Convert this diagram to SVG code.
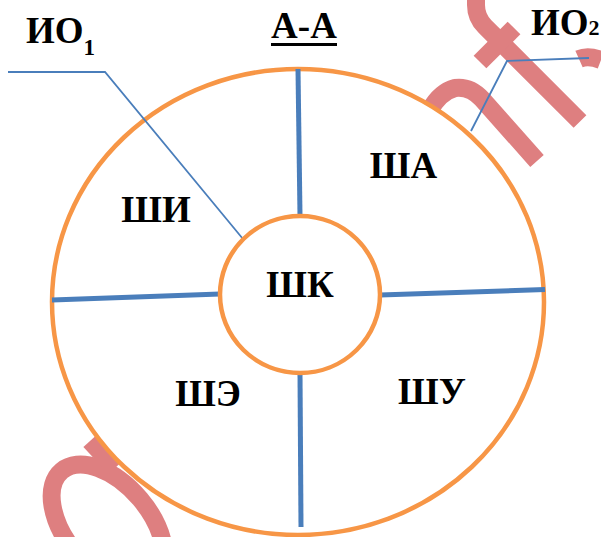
<svg xmlns="http://www.w3.org/2000/svg" width="601" height="537" viewBox="0 0 601 537">
  <style>
    .wm { fill: none; stroke: #de7f80; stroke-width: 18; stroke-linecap: butt; }
    .ring { fill: #ffffff; stroke: #f79646; stroke-width: 4.5; }
    .div { stroke: #4a7ebb; stroke-width: 5; fill: none; }
    .lead { stroke: #4a7ebb; stroke-width: 1.8; fill: none; }
    .lbl { font-family: "Liberation Serif", "Times New Roman", serif; font-weight: bold; font-size: 37px; fill: #000000; }
  </style>
  <rect x="0" y="0" width="601" height="537" fill="#ffffff"/>
  <g id="watermark">
    <path class="wm" d="M476,-5 L476,5 Q476,17.5 485,26.5 L580,121.5"/>
    <path class="wm" stroke-width="15" d="M480,62 L514,28"/>
    <path class="wm" stroke-width="11" d="M579,59 Q588,55 601,60"/>
    <path class="wm" stroke-width="19" d="M537,161 L482,99 Q470,86 455,88 Q440,92 430,110"/>
    <ellipse class="wm" cx="108" cy="526" rx="72" ry="42" transform="rotate(50 108 526)"/>
    <path class="wm" stroke-width="15" d="M90,441 L115,468"/>
  </g>
  <g id="outer-ring">
    <ellipse class="ring" cx="298" cy="302" rx="246" ry="233"/>
  </g>
  <g id="connectors">
    <line class="div" x1="298" y1="69" x2="300" y2="216"/>
    <line class="div" x1="300" y1="373" x2="301" y2="527"/>
    <line class="div" x1="52" y1="300" x2="220" y2="294"/>
    <line class="div" x1="380" y1="295" x2="545" y2="289.5"/>
    <polyline class="lead" points="8,72 105,72 243,239"/>
    <polyline class="lead" points="471,131 507,61 589,58"/>
  </g>
  <g id="inner-ring">
    <ellipse class="ring" cx="300" cy="294.5" rx="80" ry="78.5"/>
  </g>
  <g id="node-SHK"><text class="lbl" x="300" y="297" text-anchor="middle">ШК</text></g>
  <g id="node-SHA"><text class="lbl" x="403.5" y="177.5" text-anchor="middle">ША</text></g>
  <g id="node-SHI"><text class="lbl" x="156" y="221.5" text-anchor="middle">ШИ</text></g>
  <g id="node-SHE"><text class="lbl" x="208" y="406" text-anchor="middle">ШЭ</text></g>
  <g id="node-SHU"><text class="lbl" x="432" y="403.5" text-anchor="middle">ШУ</text></g>
  <g id="title">
    <text class="lbl" x="304" y="38" text-anchor="middle">А-А</text>
    <line x1="271" y1="44.5" x2="337" y2="44.5" stroke="#000000" stroke-width="3"/>
  </g>
  <g id="label-IO1">
    <text class="lbl" x="26" y="43">ИО<tspan font-size="23" dy="12">1</tspan></text>
  </g>
  <g id="label-IO2">
    <text class="lbl" x="531" y="35">ИО<tspan font-size="22">2</tspan></text>
  </g>
</svg>
